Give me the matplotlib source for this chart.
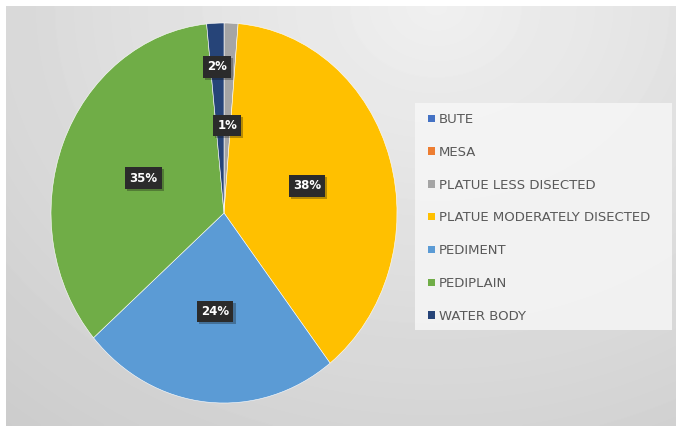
import numpy as np
import matplotlib.pyplot as plt
import matplotlib.patheffects as pe

# land form classes and their share of the area (%)
classes = ["BUTE", "MESA", "PLATUE LESS DISECTED", "PLATUE MODERATELY DISECTED",
           "PEDIMENT", "PEDIPLAIN", "WATER BODY"]
shares = [0.0, 0.0, 1.3, 38.2, 24.1, 34.8, 1.6]
colors = ["#4472C4", "#ED7D31", "#A5A5A5", "#FFC000", "#5B9BD5", "#70AD47", "#264478"]
label_dist = [0.5, 0.5, 0.46, 0.5, 0.52, 0.5, 0.77]

W, H = 676, 426
fig = plt.figure(figsize=(W / 100, H / 100), dpi=100)

# gray radial background like the excel chart area
bg = fig.add_axes([6 / W, 0, (W - 6) / W, (H - 6) / H])
yy, xx = np.mgrid[0:420, 0:670]
d = np.hypot(xx - 430, (yy - 0) * 1.2)
shade = 0.94 - 0.14 * d / d.max()
bg.imshow(shade, cmap="gray", vmin=0, vmax=1, aspect="auto", interpolation="bilinear")
bg.axis("off")

# the pie is stretched vertically in the original, so aspect is auto
ax = fig.add_axes([51 / W, 23 / H, 346 / W, 380 / H])
wedges, _ = ax.pie(shares, colors=colors, startangle=90, counterclock=False,
                   wedgeprops=dict(linewidth=0.4, edgecolor="white"))
ax.set_aspect("auto")
ax.set_xlim(-1, 1)
ax.set_ylim(-1, 1)

for w, v, r in zip(wedges, shares, label_dist):
    if v < 0.5:
        continue
    ang = np.deg2rad((w.theta1 + w.theta2) / 2)
    t = ax.text(r * np.cos(ang), r * np.sin(ang), f"{v:.0f}%", ha="center", va="center",
                color="white", fontsize=8.5, fontweight="bold",
                bbox=dict(boxstyle="square,pad=0.35", fc="#2b2b2b", ec="none"))
    t.get_bbox_patch().set_path_effects([pe.SimplePatchShadow(offset=(1.5, -1.5), alpha=0.3),
                                         pe.Normal()])

# legend box
fig.patches.append(plt.Rectangle((415 / W, 1 - 330 / H), 257 / W, 227 / H,
                                 transform=fig.transFigure, fc="#f6f6f6", ec="none",
                                 alpha=0.85, zorder=1))
handles = [plt.Rectangle((0, 0), 1, 1, fc=c, ec="none") for c in colors]
leg = fig.legend(handles, classes, loc="upper left", bbox_to_anchor=(428 / W, 1 - 113 / H),
                 frameon=False, fontsize=9.5, labelcolor="#595959", handlelength=0.5,
                 handleheight=0.5, handletextpad=0.3, labelspacing=1.5,
                 borderpad=0, borderaxespad=0)
leg.set_zorder(2)

fig.savefig("out.png", dpi=100, facecolor="white")
